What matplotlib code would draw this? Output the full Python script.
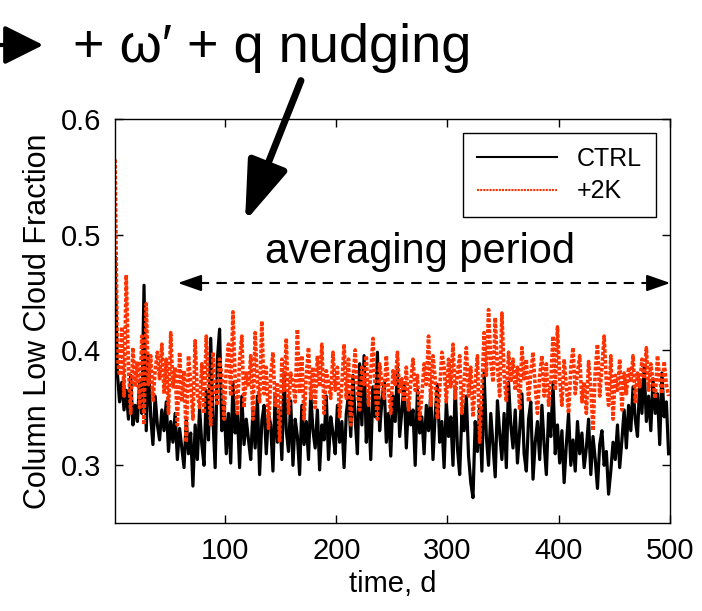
import numpy as np
import matplotlib
matplotlib.use('Agg')
import matplotlib.pyplot as plt

plt.rcParams['font.family'] = ['Liberation Sans', 'DejaVu Sans']

# daily output sampled every 2 days, cloud fraction in thousandths
days = list(range(1, 500, 2))

ctrl = [480, 380, 355, 372, 348, 365, 340, 378, 335, 352,
        338, 372, 345, 456, 330, 395, 342, 318, 360, 335,
        322, 348, 330, 355, 312, 338, 320, 345, 305, 332,
        315, 298, 340, 310, 328, 282, 335, 305, 350, 318,
        300, 365, 322, 410, 340, 298, 392, 418, 330, 355,
        310, 345, 302, 372, 328, 345, 298, 360, 318, 340,
        322, 305, 348, 315, 360, 292, 338, 352, 310, 345,
        335, 295, 362, 320, 348, 305, 380, 330, 312, 356,
        300, 340, 325, 292, 352, 318, 338, 305, 362, 330,
        315, 348, 296, 335, 322, 360, 305, 342, 328, 310,
        352, 320, 338, 298, 345, 362, 325, 378, 340, 310,
        388, 335, 395, 320, 352, 305, 368, 342, 398, 330,
        355, 372, 320, 345, 308, 360, 338, 385, 325, 348,
        370, 315, 355, 335, 348, 300, 365, 328, 342, 310,
        352, 330, 362, 305, 345, 370, 320, 338, 298, 355,
        325, 342, 300, 368, 315, 292, 345, 330, 360, 308,
        285, 272, 338, 312, 350, 295, 380, 325, 300, 345,
        318, 290, 356, 328, 305, 345, 298, 372, 335, 315,
        348, 302, 330, 362, 310, 295, 340, 355, 288, 320,
        338, 305, 352, 318, 292, 345, 325, 372, 310, 335,
        302, 330, 285, 318, 345, 300, 322, 295, 338, 310,
        328, 298, 315, 340, 292, 325, 305, 280, 318, 330,
        300, 312, 275, 295, 320, 305, 335, 298, 322, 348,
        315, 352, 330, 368, 340, 325, 372, 345, 385, 338,
        360, 330, 375, 345, 362, 318, 380, 342, 355, 310]

warm = [565, 392, 378, 420, 360, 465, 385, 345, 402, 368,
        390, 350, 412, 335, 440, 370, 395, 355, 382, 398,
        375, 405, 362, 392, 345, 415, 368, 385, 335, 398,
        355, 382, 320, 395, 372, 340, 408, 362, 350, 388,
        345, 412, 370, 335, 398, 365, 352, 392, 378, 340,
        385, 405, 360, 433, 375, 345, 392, 412, 350, 380,
        368, 395, 340, 415, 372, 355, 425, 362, 385, 332,
        378, 398, 352, 370, 320, 392, 365, 410, 345, 380,
        372, 355, 418, 362, 395, 340, 378, 402, 358, 385,
        350, 395, 368, 405, 345, 382, 372, 358, 398, 365,
        385, 342, 370, 405, 358, 392, 335, 375, 400, 362,
        348, 385, 370, 395, 352, 380, 410, 365, 340, 388,
        372, 358, 395, 365, 345, 382, 370, 398, 362, 375,
        355, 385, 348, 372, 392, 365, 378, 340, 360, 388,
        370, 412, 352, 395, 375, 340, 365, 398, 385, 355,
        392, 368, 405, 358, 380, 395, 345, 372, 402, 360,
        385, 342, 372, 395, 320, 365, 415, 378, 435, 390,
        372, 428, 385, 360, 432, 378, 355, 398, 372, 392,
        365, 385, 348, 402, 375, 392, 355, 380, 398, 368,
        345, 378, 395, 360, 388, 352, 372, 412, 365, 420,
        375, 352, 392, 368, 345, 385, 402, 362, 380, 395,
        355, 372, 345, 390, 368, 330, 382, 405, 360, 385,
        412, 372, 352, 395, 340, 378, 365, 392, 348, 380,
        362, 385, 372, 395, 355, 380, 368, 392, 375, 402,
        365, 388, 372, 358, 395, 375, 362, 390, 370, 360]

xticks = [100, 200, 300, 400, 500]
yticks = [0.3, 0.4, 0.5, 0.6]

fig = plt.figure(figsize=(7.02, 6.11), dpi=100)
ax = fig.add_axes([0.164, 0.144, 0.790, 0.661])

ax.plot(days, np.array(ctrl) / 1000, color='black', lw=2.3, label='CTRL')
ax.plot(days, np.array(warm) / 1000, color='#ff3300', lw=2.6,
        linestyle=(0, (1.0, 0.5)), label='+2K')

ax.set_xlim(1, 500)
ax.set_ylim(0.25, 0.6)
ax.set_xticks(xticks)
ax.set_yticks(yticks)
ax.set_yticklabels(['0.3', '0.4', '0.5', '0.6'])
ax.tick_params(direction='in', length=6, width=1, labelsize=21,
               top=True, right=True, pad=10)
for s in ax.spines.values():
    s.set_linewidth(1)
ax.set_xlabel('time, d', fontsize=21, labelpad=4)
ax.set_ylabel('Column Low Cloud Fraction', fontsize=22, labelpad=6)

leg = ax.legend(loc='upper right', fontsize=18, fancybox=False,
                framealpha=1, edgecolor='black', handlelength=3.2,
                borderaxespad=0.55, borderpad=0.55, labelspacing=0.35)
leg.get_frame().set_linewidth(1)
for h in leg.get_lines():
    h.set_linewidth(1.5)

# averaging period arrow
y_arr = 0.458
ax.plot([60, 497], [y_arr, y_arr], color='black', lw=1.5,
        linestyle=(0, (5, 3.5)), clip_on=False)
for tip, tail in [(55, 68), (503, 490)]:
    ax.annotate('', xy=(tip, y_arr), xytext=(tail, y_arr),
                annotation_clip=False,
                arrowprops=dict(arrowstyle='-|>,head_length=0.8,head_width=0.28',
                                mutation_scale=18, lw=1.5, color='black'))
ax.text(275, 0.475, 'averaging period', fontsize=30, ha='center',
        va='baseline')

# headline and pointer arrows
fig.text(73, 611 - 62, '+ ω′ + q nudging', fontsize=39,
         transform=None, ha='left', va='baseline')
fig.add_artist(plt.Annotation('', xy=(46, 611 - 45), xytext=(-10, 611 - 45),
                              xycoords='figure pixels', textcoords='figure pixels',
                              arrowprops=dict(arrowstyle='-|>,head_length=1.2,head_width=0.6',
                                              mutation_scale=20, lw=3, color='black')))
fig.add_artist(plt.Annotation('', xy=(244, 611 - 224), xytext=(302, 611 - 78),
                              xycoords='figure pixels', textcoords='figure pixels',
                              arrowprops=dict(arrowstyle='-|>,head_length=1.3,head_width=0.45',
                                              mutation_scale=28, lw=5, color='black')))

fig.savefig('out.png', dpi=100)
